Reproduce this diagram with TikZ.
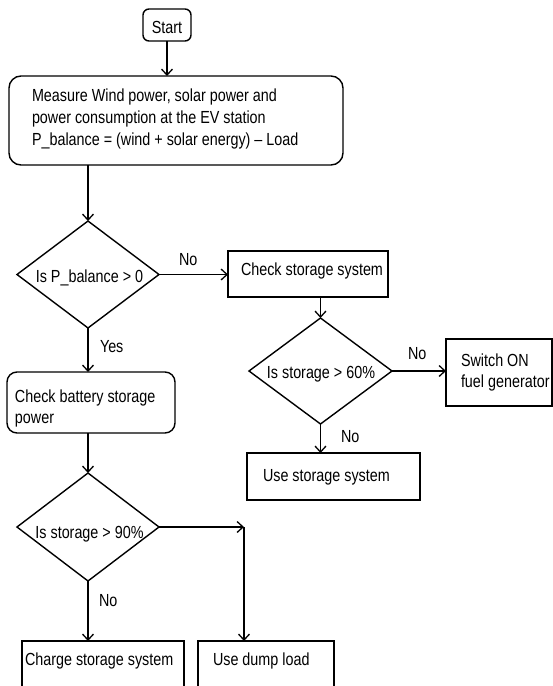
\documentclass[tikz,border=0pt]{standalone}
\usepackage{fontspec}
\setmainfont[FakeStretch=0.82]{Liberation Sans}
\usetikzlibrary{shapes.geometric,arrows.meta}
\begin{document}
\begin{tikzpicture}[x=1pt,y=-1pt,
  every node/.style={inner sep=0pt,outer sep=0pt},
  txt/.style={anchor=base west,font=\fontsize{17.5}{22}\selectfont},
  ctxt/.style={anchor=base,font=\fontsize{17.5}{22}\selectfont},
  rbox/.style={draw,line width=1.4pt,rounded corners=#1},
  sbox/.style={draw,line width=1.4pt},
  dec/.style={draw,line width=1.4pt,diamond,shape aspect=1},
  arr/.style={line width=1.4pt,-{Straight Barb[length=6pt,width=11pt,line width=1.3pt]}},
  ln/.style={line width=1.4pt}]
\useasboundingbox (0,0) rectangle (553,686);
\fill[white] (0,0) rectangle (553,686);
% boxes
\node[rbox=6pt,minimum width=48pt,minimum height=32pt] (start) at (167,25) {};
\node[rbox=12pt,minimum width=334pt,minimum height=89pt] (measure) at (176,120.5) {};
\node[sbox,minimum width=160pt,minimum height=46pt] (check) at (308,274) {};
\node[sbox,minimum width=106pt,minimum height=67pt] (switch) at (499,372.5) {};
\node[sbox,minimum width=173pt,minimum height=47pt] (usestore) at (333.5,476.5) {};
\node[rbox=10pt,minimum width=168pt,minimum height=61pt] (battery) at (91,402.5) {};
\node[sbox,minimum width=162pt,minimum height=79pt] (charge) at (103,680.5) {};
\node[sbox,minimum width=136pt,minimum height=79pt] (dump) at (266,680.5) {};
% diamonds
\node[dec,minimum width=142pt,minimum height=107pt] (d1) at (88,274.5) {};
\node[dec,minimum width=143pt,minimum height=106pt] (d2) at (320.5,371) {};
\node[dec,minimum width=142pt,minimum height=108pt] (d3) at (88,527) {};
% texts
\node[ctxt] (tstart) at (167,33) {Start};
\node[txt] (tm1) at (32,101) {Measure Wind power, solar power and};
\node[txt] (tm2) at (32,123) {power consumption at the EV station};
\node[txt] (tm3) at (32,145.5) {P\_balance = (wind + solar energy) – Load};
\node[ctxt] (td1) at (89.5,282) {Is P\_balance > 0};
\node[txt] (tcheck) at (241,275) {Check storage system};
\node[ctxt] (td2) at (321,378) {Is storage > 60\%};
\node[txt] (tsw1) at (461,366) {Switch ON};
\node[txt] (tsw2) at (461,387.5) {fuel generator};
\node[txt] (tuse) at (263,481) {Use storage system};
\node[txt] (tb1) at (15,402) {Check battery storage};
\node[txt] (tb2) at (15,423.5) {power};
\node[ctxt] (td3) at (89.5,538) {Is storage > 90\%};
\node[txt] (tcharge) at (25,665) {Charge storage system};
\node[txt] (tdump) at (213,665) {Use dump load};
% labels
\node[txt] (lno1) at (179,265) {No};
\node[txt] (lyes) at (100,352) {Yes};
\node[txt] (lno2) at (408,359) {No};
\node[txt] (lno3) at (341,442) {No};
\node[txt] (lno4) at (99,606) {No};
% connectors
\coordinate (corner) at (244,527);
\draw[arr] (start.south) -- (start.south |- measure.north);
\draw[arr] (d1.north |- measure.south) -- (d1.north);
\draw[arr] (d1.east) -- (d1.east -| check.west);
\draw[arr] (d2.north |- check.south) -- (d2.north);
\draw[arr] (d2.east) -- (d2.east -| switch.west);
\draw[arr] (d2.south) -- (d2.south |- usestore.north);
\draw[arr] (d1.south) -- (d1.south |- battery.north);
\draw[arr] (d3.north |- battery.south) -- (d3.north);
\draw[arr] (d3.east) -- (corner);
\draw[arr] (corner) -- (corner |- dump.north);
\draw[arr] (d3.south) -- (d3.south |- charge.north);
\end{tikzpicture}
\end{document}
